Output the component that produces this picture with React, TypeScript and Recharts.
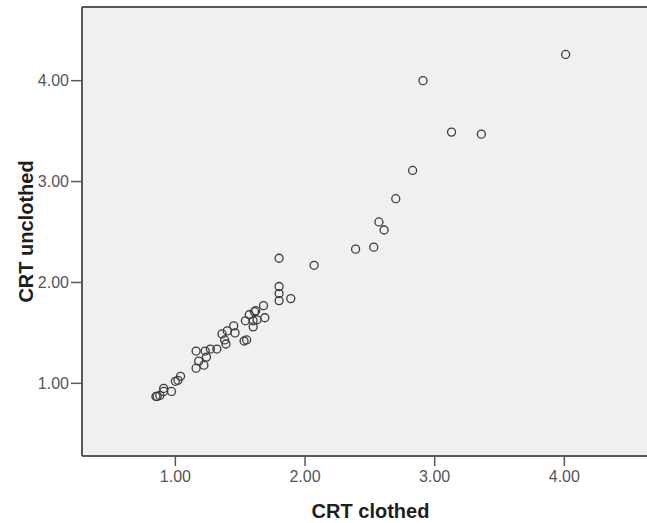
import React from "react";
import {
  ScatterChart,
  Scatter,
  XAxis,
  YAxis,
  CartesianGrid,
  ReferenceLine,
  Label,
} from "recharts";

// CRT scores, one entry per participant
const clothed = [
  4.01, 2.91, 3.13, 3.36, 2.83, 2.7, 2.57, 2.61, 2.39, 2.53, 2.07,
  1.8, 1.8, 1.8, 1.8, 1.89, 1.68, 1.62, 1.61, 1.57, 1.69, 1.54, 1.6,
  1.63, 1.6, 1.45, 1.4, 1.46, 1.36, 1.38, 1.39, 1.53, 1.55, 1.32, 1.27,
  1.23, 1.16, 1.24, 1.18, 1.22, 1.16, 1.04, 1.02, 1.0, 0.97, 0.91, 0.91,
  0.88, 0.86, 0.85,
];
const unclothed = [
  4.26, 4.0, 3.49, 3.47, 3.11, 2.83, 2.6, 2.52, 2.33, 2.35, 2.17,
  2.24, 1.96, 1.89, 1.82, 1.84, 1.77, 1.72, 1.71, 1.68, 1.65, 1.62, 1.62,
  1.63, 1.56, 1.57, 1.52, 1.5, 1.49, 1.43, 1.39, 1.42, 1.43, 1.34, 1.34,
  1.32, 1.32, 1.26, 1.22, 1.18, 1.15, 1.07, 1.03, 1.02, 0.92, 0.95, 0.92,
  0.88, 0.87, 0.87,
];
const ticks = [1, 2, 3, 4];

const X_MIN = 0.28;
const X_MAX = 4.73;
const Y_MIN = 0.28;
const Y_MAX = 4.73;

const data = clothed.map((c, i) => ({ clothed: c, unclothed: unclothed[i] }));

const FONT = "Arial, 'Liberation Sans', sans-serif";
const AXIS = "#585858";

const Ring = (props: any) => (
  <circle
    cx={props.cx}
    cy={props.cy}
    r={4}
    fill="none"
    stroke="#3c3c3c"
    strokeWidth={1.3}
  />
);

const YTitle = (props: any) => {
  const vb = props.viewBox;
  const cy = vb.y + vb.height / 2;
  return (
    <text
      x={33}
      y={cy}
      transform={`rotate(-90, 33, ${cy})`}
      textAnchor="middle"
      fontFamily={FONT}
      fontSize={20}
      fontWeight="bold"
      fill="#1e1e1e"
    >
      CRT unclothed
    </text>
  );
};

export default function App() {
  return (
    <div
      style={{
        position: "absolute",
        left: 0,
        top: 0,
        width: 647,
        height: 523,
        overflow: "hidden",
        background: "#fff",
      }}
    >
      <ScatterChart
        width={659}
        height={523}
        margin={{ top: 7, right: 0, bottom: 0, left: 0 }}
      >
        <CartesianGrid horizontal={false} vertical={false} fill="#eff0f0" />
        <XAxis
          type="number"
          dataKey="clothed"
          domain={[X_MIN, X_MAX]}
          ticks={ticks}
          tickFormatter={(v: number) => v.toFixed(2)}
          height={67}
          tickSize={10}
          tickMargin={5}
          axisLine={{ stroke: AXIS, strokeWidth: 2 }}
          tickLine={{ stroke: AXIS, strokeWidth: 1.5 }}
          tick={{ fill: "#555", fontSize: 16, fontFamily: FONT }}
        >
          <Label
            value="CRT clothed"
            position="insideBottom"
            offset={5}
            style={{
              fontFamily: FONT,
              fontSize: 20,
              fontWeight: "bold",
              fill: "#1e1e1e",
            }}
          />
        </XAxis>
        <YAxis
          type="number"
          dataKey="unclothed"
          domain={[Y_MIN, Y_MAX]}
          ticks={ticks}
          tickFormatter={(v: number) => v.toFixed(2)}
          width={82}
          tickSize={11}
          tickMargin={2}
          axisLine={{ stroke: AXIS, strokeWidth: 2 }}
          tickLine={{ stroke: AXIS, strokeWidth: 1.5 }}
          tick={{ fill: "#555", fontSize: 16, fontFamily: FONT }}
        >
          <Label content={YTitle} />
        </YAxis>
        <ReferenceLine y={Y_MAX} stroke={AXIS} strokeWidth={2} />
        <Scatter data={data} shape={Ring} isAnimationActive={false} />
      </ScatterChart>
    </div>
  );
}
